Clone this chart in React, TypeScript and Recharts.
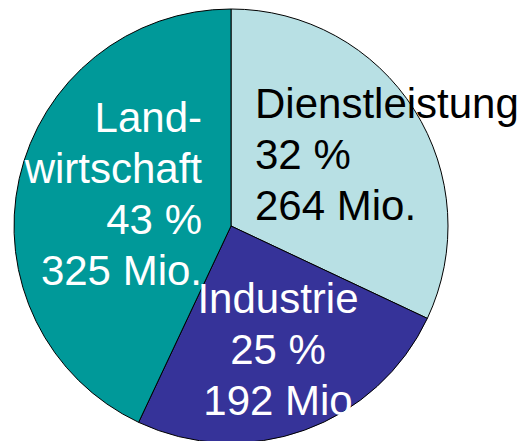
import { PieChart, Pie, Cell } from 'recharts';

const sectors = ['Dienstleistung', 'Industrie', 'Landwirtschaft'];
const sectorLines = [['Dienstleistung'], ['Industrie'], ['Land-', 'wirtschaft']];
const shares = [32, 25, 43];
const workers = ['264 Mio.', '192 Mio', '325 Mio.'];

const colors = ['#b8e0e4', '#363399', '#009999'];
const textColors = ['#000000', '#ffffff', '#ffffff'];

// label placement relative to the pie centre
const labelLayout = [
    { dx: 24, dy: -108, anchor: 'start' },
    { dx: 47, dy: 87, anchor: 'middle' },
    { dx: -29, dy: -94, anchor: 'end' },
];

const data = sectors.map((name, i) => ({
    name,
    value: shares[i],
    lines: [...sectorLines[i], `${shares[i]} %`, workers[i]],
}));

const renderLabel = (props: any) => {
    const { cx, cy, index } = props;
    const layout = labelLayout[index];
    const x = cx + layout.dx;
    return (
        <text
            x={x}
            y={cy + layout.dy}
            textAnchor={layout.anchor}
            fill={textColors[index]}
            fontSize={42}
            fontFamily="'Liberation Sans', Arial, sans-serif"
        >
            {data[index].lines.map((line, i) => (
                <tspan key={i} x={x} dy={i === 0 ? 0 : 51}>
                    {line}
                </tspan>
            ))}
        </text>
    );
};

export default function App() {
    return (
        <div style={{ width: 524, height: 441, background: '#fff', overflow: 'hidden' }}>
            <style>{'body { margin: 0; }'}</style>
            <PieChart width={524} height={441} margin={{ top: 0, right: 0, bottom: 0, left: 0 }}>
                <Pie
                    data={data}
                    dataKey="value"
                    nameKey="name"
                    cx={231}
                    cy={226}
                    outerRadius={217}
                    startAngle={90}
                    endAngle={-270}
                    stroke="#000"
                    strokeWidth={1}
                    labelLine={false}
                    label={renderLabel}
                    isAnimationActive={false}
                >
                    {data.map((d, i) => (
                        <Cell key={d.name} fill={colors[i]} />
                    ))}
                </Pie>
            </PieChart>
        </div>
    );
}
